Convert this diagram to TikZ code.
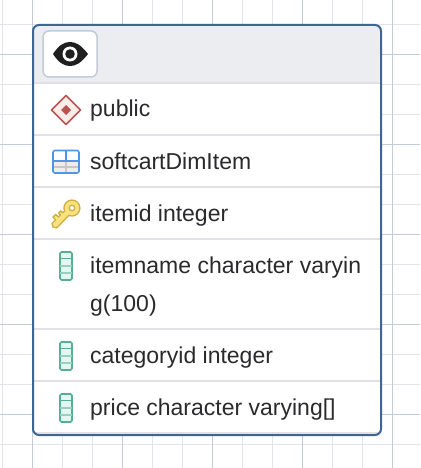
\documentclass[tikz,border=0pt]{standalone}
\usepackage{fontspec}
\setmainfont{Liberation Sans}
\usetikzlibrary{positioning}

\definecolor{gridminor}{HTML}{E2E4EA}
\definecolor{gridmajor}{HTML}{C3CAD8}
\definecolor{frameblue}{HTML}{3F6593}
\definecolor{headgrey}{HTML}{ECEDF1}
\definecolor{rowline}{HTML}{E0E0E6}
\definecolor{rowtext}{HTML}{2A2A2D}
\definecolor{columngreen}{HTML}{58AD94}
\definecolor{columnfill}{HTML}{E3F6F0}
\definecolor{schemared}{HTML}{B85450}
\definecolor{schemafill}{HTML}{FBECEA}
\definecolor{tableblue}{HTML}{4F97E6}
\definecolor{keyfill}{HTML}{F7E27E}
\definecolor{keyline}{HTML}{CDAF45}

\tikzset{
    rowlabel/.style={anchor=base west, inner sep=0pt, text=rowtext, font=\fontsize{23}{26}\selectfont},
    rowsep/.style={rowline, line width=2pt},
    columnicon/.style={draw=columngreen, fill=columnfill, line width=1.6pt, rounded corners=1.5pt}
}

% small column marker, #1 is the top of the icon, #2 its height
\newcommand{\columnmark}[2]{
    \draw[columnicon] (60,#1) rectangle (72,#1+#2);
    \draw[columngreen, line width=1.2pt] (60,#1+0.24*#2) -- (72,#1+0.24*#2);
    \draw[columngreen!60, line width=1.2pt] (60,#1+0.5*#2) -- (72,#1+0.5*#2);
    \draw[columngreen!60, line width=1.2pt] (60,#1+0.75*#2) -- (72,#1+0.75*#2);
}

\begin{document}
\begin{tikzpicture}[x=1pt, y=-1pt]
    \useasboundingbox (0,0) rectangle (420,468);
    \fill[white] (0,0) rectangle (420,468);

    % Background grid
    \foreach \x in {2.5,62.5,92.5,152.5,182.5,242.5,272.5,332.5,362.5} {
        \draw[gridminor, line width=1pt] (\x,0) -- (\x,468);
    }
    \foreach \y in {24.5,84.5,114.5,174.5,204.5,264.5,294.5,354.5,384.5,444.5} {
        \draw[gridminor, line width=1pt] (0,\y) -- (420,\y);
    }
    \foreach \x in {32.5,122.5,212.5,302.5,392.5} {
        \draw[gridmajor, line width=1pt] (\x,0) -- (\x,468);
    }
    \foreach \y in {54.5,144.5,234.5,324.5,414.5} {
        \draw[gridmajor, line width=1pt] (0,\y) -- (420,\y);
    }

    % Card with grey header
    \fill[white, rounded corners=6pt] (33,25) rectangle (381,435);
    \fill[headgrey, rounded corners=6pt] (33,83) -- (33,25) -- (381,25) -- (381,83) [sharp corners] -- cycle;

    % Row separators
    \foreach \y in {83,135,187,239,329,381,433} {
        \draw[rowsep] (34,\y) -- (380,\y);
    }
    \draw[frameblue, line width=2pt, rounded corners=6pt] (33,25) rectangle (381,435);

    % Eye button
    \draw[gridmajor, fill=white, line width=1.5pt, rounded corners=6pt] (43,31) rectangle (97,77);
    \fill[black!88] (53,54) .. controls (59,45) and (64,42) .. (70,42)
        .. controls (76,42) and (81,45) .. (88,54)
        .. controls (81,63) and (76,66) .. (70,66)
        .. controls (64,66) and (59,63) .. (53,54) -- cycle;
    \fill[white] (70,54) circle (7.5);
    \fill[black!88] (70,54) circle (4.8);

    % Schema diamond
    \draw[draw=schemared, fill=schemafill, line width=1.5pt, line join=round]
        (66,95.5) -- (80.5,110) -- (66,124.5) -- (51.5,110) -- cycle;
    \fill[schemared] (66,105) -- (71,110) -- (66,115) -- (61,110) -- cycle;

    % Table icon
    \fill[white] (53,150) rectangle (79,161);
    \fill[black!7] (53,161) rectangle (79,173);
    \draw[black!22, line width=1.2pt] (53,167) -- (79,167) (66,161) -- (66,173);
    \draw[tableblue, line width=1.2pt] (66,150) -- (66,161) (53,161) -- (79,161);
    \draw[tableblue, line width=1.6pt, rounded corners=2pt] (53,150.5) rectangle (79,173);

    % Key icon
    \begin{scope}[shift={(72,208)}, rotate=45]
        \fill[keyfill, draw=keyline, line width=1.3pt, even odd rule, line join=round]
            (-7.5,-3) arc (-158:158:8) -- (-25,3.2) -- (-27,0) -- (-25,-3.2) -- (-20,-3.2) -- (-20,-7) -- (-16,-7)
            -- (-16,-3.2) -- (-13,-3.2) -- (-13,-6) -- (-10,-6) -- (-10,-3.2) -- cycle
            (0,0) circle (2.8);
    \end{scope}

    % Column icons
    \columnmark{252}{28}
    \columnmark{342}{28}
    \columnmark{394}{28}

    % Row labels
    \node[rowlabel] (schemaname) at (90,117) {public};
    \node[rowlabel] (tablename) at (90,169) {softcartDimItem};
    \node[rowlabel] (itemid) at (90,221) {itemid integer};
    \node[rowlabel] (itemname) at (90,273) {itemname character varyin};
    \node[rowlabel] (itemnamewrap) at (90,311) {g(100)};
    \node[rowlabel] (categoryid) at (90,363) {categoryid integer};
    \node[rowlabel] (price) at (90,415) {price character varying[]};
\end{tikzpicture}
\end{document}
